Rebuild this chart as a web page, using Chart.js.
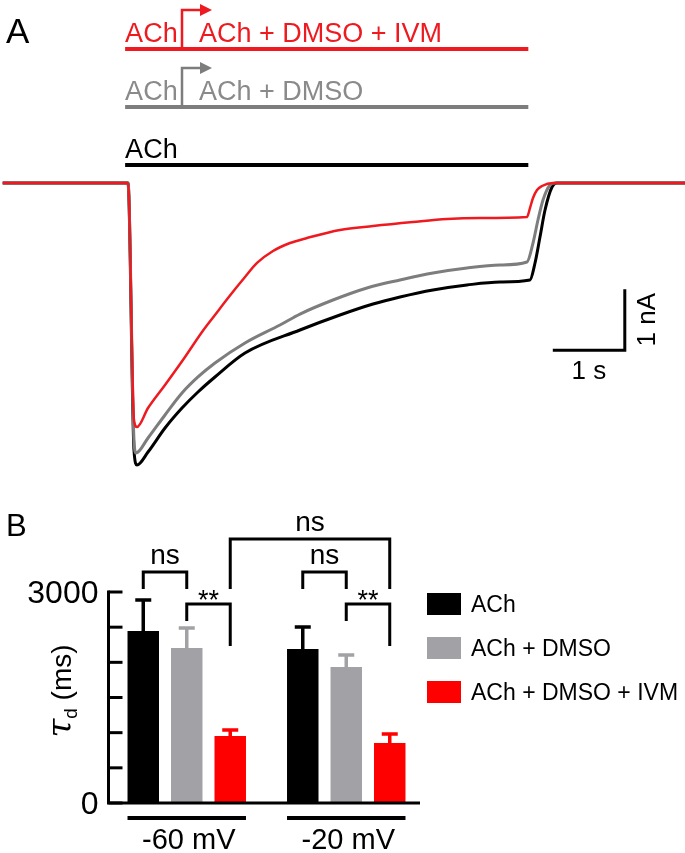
<!DOCTYPE html>
<html>
<head>
<meta charset="utf-8">
<script src="https://cdn.jsdelivr.net/npm/chart.js@4"></script>
<style>
  html, body { margin: 0; padding: 0; background: #fff; }
  #wrap { position: relative; width: 685px; height: 853px; }
  canvas { position: absolute; left: 0; top: 0; }
</style>
</head>
<body>
<div id="wrap">
  <canvas id="traceChart" width="685" height="853"></canvas>
  <canvas id="barChart" width="685" height="853"></canvas>
</div>
<script>
// ---- panel A: current traces (time in s, current in nA) ----
const redTrace = [
  [-1.74, 0], [0, 0], [0.083, -3.885], [0.125, -4.0], [0.278, -3.689], [0.514, -3.311],
  [0.792, -2.852], [1.028, -2.443], [1.208, -2.164], [1.389, -1.885], [1.625, -1.541],
  [1.792, -1.311], [2.014, -1.115], [2.25, -0.984], [2.486, -0.902], [2.944, -0.770],
  [3.403, -0.705], [3.958, -0.639], [4.431, -0.590], [4.889, -0.574], [5.542, -0.557],
  [5.583, -0.410], [5.625, -0.246], [5.681, -0.115], [5.75, -0.049], [5.903, 0], [7.74, 0]
];
const grayTrace = [
  [-1.74, 0], [0, 0], [0.083, -4.213], [0.111, -4.426], [0.278, -4.180], [0.514, -3.803],
  [0.75, -3.443], [0.972, -3.180], [1.208, -2.951], [1.625, -2.623], [2.111, -2.328],
  [2.389, -2.148], [2.847, -1.918], [3.319, -1.721], [3.778, -1.590], [4.236, -1.475],
  [4.708, -1.393], [5.167, -1.344], [5.542, -1.295], [5.625, -0.984], [5.694, -0.607],
  [5.764, -0.279], [5.861, -0.033], [5.931, 0], [7.74, 0]
];
const blackTrace = [
  [-1.74, 0], [0, 0], [0.083, -4.377], [0.125, -4.623], [0.278, -4.410], [0.514, -4.016],
  [0.75, -3.689], [0.972, -3.426], [1.208, -3.180], [1.625, -2.787], [2.389, -2.410],
  [2.944, -2.164], [3.403, -1.984], [3.778, -1.869], [4.236, -1.754], [4.708, -1.672],
  [5.167, -1.623], [5.583, -1.590], [5.653, -1.311], [5.722, -0.885], [5.792, -0.443],
  [5.889, -0.066], [5.958, 0], [7.74, 0]
];
const applyStart = -0.04;   // s
const applySwitch = 0.75;   // s
const applyEnd = 5.56;      // s

// ---- panel B: decay time constants (ms) ----
const groups = ['-60 mV', '-20 mV'];
const conditions = ['ACh', 'ACh + DMSO', 'ACh + DMSO + IVM'];
const achMean = [2446, 2190];
const achSem = [440, 312];
const dmsoMean = [2204, 1934];
const dmsoSem = [284, 170];
const ivmMean = [953, 853];
const ivmSem = [85, 128];
const yTicks = [0, 500, 1000, 1500, 2000, 2500, 3000];
const yTickLabels = ['0', '', '', '', '', '', '3000'];

const RED = '#ee1a1f';
const TRACE_GRAY = '#7d7d7d';
const TEXT_GRAY = '#8a8a8a';
const BAR_GRAY = '#a2a2a6';
const BAR_RED = '#ff0000';
const SANS = '"Liberation Sans", Arial, sans-serif';

function toXY(arr) {
  return arr.map(p => ({ x: p[0], y: p[1] }));
}

// 画 A 面板的标注：给药条、箭头、比例尺
const panelA = {
  id: 'panelA',
  afterDraw(chart) {
    const { ctx, scales: { x, y } } = chart;
    ctx.save();
    ctx.fillStyle = '#000';
    ctx.font = '35px ' + SANS;
    ctx.fillText('A', 6, 43);

    const xs = x.getPixelForValue(applyStart);
    const xe = x.getPixelForValue(applyEnd);
    const xw = x.getPixelForValue(applySwitch);
    const rows = [
      { y: 49, color: RED, text: 'ACh', after: 'ACh + DMSO + IVM', arrowY: 10 },
      { y: 107, color: TRACE_GRAY, textColor: TEXT_GRAY, text: 'ACh', after: 'ACh + DMSO', arrowY: 68 },
      { y: 165, color: '#000', text: 'ACh' }
    ];
    rows.forEach(r => {
      ctx.strokeStyle = r.color;
      ctx.fillStyle = r.textColor || r.color;
      ctx.lineWidth = 4;
      ctx.beginPath();
      ctx.moveTo(xs, r.y);
      ctx.lineTo(xe, r.y);
      ctx.stroke();
      ctx.font = '27px ' + SANS;
      ctx.textAlign = 'left';
      ctx.fillText(r.text, xs, r.y - 7);
      if (r.after) {
        ctx.fillText(r.after, xw + 17, r.y - 7);
        ctx.lineWidth = 2.5;
        ctx.beginPath();
        ctx.moveTo(xw, r.y);
        ctx.lineTo(xw, r.arrowY);
        ctx.lineTo(xw + 20, r.arrowY);
        ctx.stroke();
        ctx.fillStyle = r.color;
        ctx.beginPath();
        ctx.moveTo(xw + 18, r.arrowY - 6);
        ctx.lineTo(xw + 30, r.arrowY);
        ctx.lineTo(xw + 18, r.arrowY + 6);
        ctx.closePath();
        ctx.fill();
      }
    });

    // 比例尺 1 s / 1 nA
    const sx0 = x.getPixelForValue(5.9), sx1 = x.getPixelForValue(6.9);
    const sy0 = y.getPixelForValue(-2.74), sy1 = y.getPixelForValue(-1.74);
    ctx.strokeStyle = '#000';
    ctx.fillStyle = '#000';
    ctx.lineWidth = 3;
    ctx.beginPath();
    ctx.moveTo(sx0, sy0);
    ctx.lineTo(sx1, sy0);
    ctx.lineTo(sx1, sy1);
    ctx.stroke();
    ctx.font = '26px ' + SANS;
    ctx.textAlign = 'center';
    ctx.fillText('1 s', (sx0 + sx1) / 2, sy0 + 29);
    ctx.translate(sx1 + 30, (sy0 + sy1) / 2);
    ctx.rotate(-Math.PI / 2);
    ctx.fillText('1 nA', 0, 0);
    ctx.restore();
  }
};

new Chart(document.getElementById('traceChart'), {
  type: 'line',
  data: {
    datasets: [
      { data: toXY(redTrace), borderColor: RED, borderWidth: 2.5 },
      { data: toXY(grayTrace), borderColor: TRACE_GRAY, borderWidth: 3 },
      { data: toXY(blackTrace), borderColor: '#000', borderWidth: 3 }
    ]
  },
  options: {
    responsive: false,
    animation: false,
    events: [],
    layout: { padding: { left: 0, right: 0, top: 0, bottom: 373 } },
    elements: {
      point: { radius: 0 },
      line: { cubicInterpolationMode: 'monotone', fill: false }
    },
    scales: {
      x: { type: 'linear', display: false, min: -128 / 72, max: 557 / 72 },
      y: { type: 'linear', display: false, min: -297 / 61, max: 183 / 61 }
    },
    plugins: { legend: { display: false }, tooltip: { enabled: false } }
  },
  plugins: [panelA]
});

// ---- panel B ----
const means = [achMean, dmsoMean, ivmMean];
const sems = [achSem, dmsoSem, ivmSem];
const barColors = ['#000000', BAR_GRAY, BAR_RED];

// 显著性标注：[数据集, 组] 到 [数据集, 组]，高度用 ms 表示
const brackets = [
  { from: [0, 0], to: [1, 0], top: 3285, left: 3043, right: 3043, text: 'ns' },
  { from: [1, 0], to: [2, 0], top: 2830, left: 2588, right: 2232, text: '**' },
  { from: [0, 1], to: [1, 1], top: 3285, left: 3043, right: 3043, text: 'ns' },
  { from: [1, 1], to: [2, 1], top: 2830, left: 2588, right: 2232, text: '**' },
  { from: [2, 0], to: [2, 1], top: 3754, left: 3043, right: 3043, text: 'ns' }
];

const panelB = {
  id: 'panelB',
  afterDatasetsDraw(chart) {
    const { ctx, chartArea: ca, scales: { y } } = chart;
    const metas = [0, 1, 2].map(i => chart.getDatasetMeta(i));
    ctx.save();
    ctx.lineCap = 'butt';

    // 误差线
    metas.forEach((meta, i) => {
      ctx.strokeStyle = barColors[i];
      ctx.lineWidth = 3.5;
      meta.data.forEach((bar, j) => {
        const top = y.getPixelForValue(means[i][j] + sems[i][j]);
        ctx.beginPath();
        ctx.moveTo(bar.x, bar.y);
        ctx.lineTo(bar.x, top);
        ctx.moveTo(bar.x - 8, top);
        ctx.lineTo(bar.x + 8, top);
        ctx.stroke();
      });
    });

    // 坐标轴
    const y0 = y.getPixelForValue(0);
    const ax = ca.left + 1.5;
    ctx.strokeStyle = '#000';
    ctx.fillStyle = '#000';
    ctx.lineWidth = 3;
    ctx.beginPath();
    ctx.moveTo(ax, y.getPixelForValue(3000) - 1.5);
    ctx.lineTo(ax, y0);
    ctx.lineTo(ca.right - 6, y0);
    ctx.stroke();
    ctx.font = '32px ' + SANS;
    ctx.textAlign = 'right';
    yTicks.forEach((v, k) => {
      const py = y.getPixelForValue(v);
      ctx.beginPath();
      ctx.moveTo(ax, py);
      ctx.lineTo(ax + 14, py);
      ctx.stroke();
      if (yTickLabels[k]) ctx.fillText(yTickLabels[k], ax - 10, py + 11);
    });

    // 分组横线和标签
    ctx.lineWidth = 4;
    ctx.textAlign = 'center';
    ctx.font = '29px ' + SANS;
    groups.forEach((g, j) => {
      const b0 = metas[0].data[j], b2 = metas[2].data[j];
      const l = b0.x - b0.width / 2, r = b2.x + b2.width / 2;
      ctx.beginPath();
      ctx.moveTo(l, y0 + 15);
      ctx.lineTo(r, y0 + 15);
      ctx.stroke();
      ctx.fillText(g, (l + r) / 2 + 2, y0 + 46);
    });

    // 显著性括号
    ctx.lineWidth = 3;
    brackets.forEach(b => {
      const xa = metas[b.from[0]].data[b.from[1]].x;
      const xb = metas[b.to[0]].data[b.to[1]].x;
      const yt = y.getPixelForValue(b.top);
      ctx.beginPath();
      ctx.moveTo(xa, y.getPixelForValue(b.left));
      ctx.lineTo(xa, yt);
      ctx.lineTo(xb, yt);
      ctx.lineTo(xb, y.getPixelForValue(b.right));
      ctx.stroke();
      ctx.font = (b.text === 'ns' ? '28px ' : '27px ') + SANS;
      ctx.fillText(b.text, (xa + xb) / 2, b.text === 'ns' ? yt - 8 : yt + 5);
    });

    // 图例
    ctx.textAlign = 'left';
    ctx.font = '23px ' + SANS;
    conditions.forEach((c, i) => {
      const top = 593 + i * 44;
      ctx.fillStyle = barColors[i];
      ctx.fillRect(427, top, 34, 22);
      ctx.fillStyle = '#000';
      ctx.fillText(c, 471, top + 19);
    });

    // y 轴标题 τd (ms)
    ctx.save();
    ctx.translate(71, 691);
    ctx.rotate(-Math.PI / 2);
    const fTau = 'italic 34px "DejaVu Serif", "Liberation Serif", serif';
    const fSub = '19px ' + SANS;
    const fMs = '28px ' + SANS;
    ctx.font = fTau; const wTau = ctx.measureText('τ').width;
    ctx.font = fSub; const wSub = ctx.measureText('d').width;
    ctx.font = fMs; const wMs = ctx.measureText(' (ms)').width;
    let px = -(wTau + wSub + wMs) / 2;
    ctx.fillStyle = '#000';
    ctx.font = fTau; ctx.fillText('τ', px, 0); px += wTau;
    ctx.font = fSub; ctx.fillText('d', px, 6); px += wSub;
    ctx.font = fMs; ctx.fillText(' (ms)', px, 0);
    ctx.restore();

    ctx.font = '31px ' + SANS;
    ctx.fillText('B', 6, 536);
    ctx.restore();
  }
};

new Chart(document.getElementById('barChart'), {
  type: 'bar',
  data: {
    labels: groups,
    datasets: conditions.map((c, i) => ({
      label: c,
      data: means[i],
      backgroundColor: barColors[i],
      borderWidth: 0
    }))
  },
  options: {
    responsive: false,
    animation: false,
    events: [],
    layout: { padding: { left: 107, right: 259, top: 592, bottom: 50 } },
    datasets: { bar: { categoryPercentage: 0.818, barPercentage: 0.724 } },
    scales: {
      x: { display: false },
      y: { display: false, min: 0, max: 3000 }
    },
    plugins: { legend: { display: false }, tooltip: { enabled: false } }
  },
  plugins: [panelB]
});
</script>
</body>
</html>
